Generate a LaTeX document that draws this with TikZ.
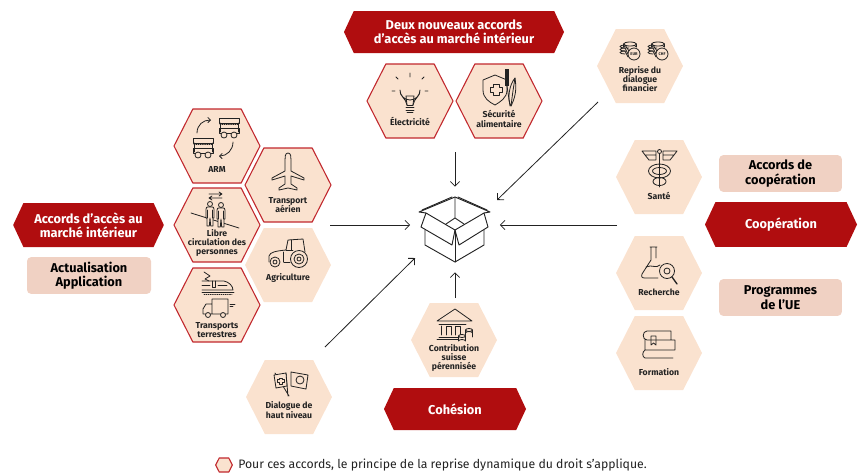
\documentclass[tikz,border=0pt]{standalone}
\usepackage{fontspec}
\setmainfont{Fira Sans}
\usetikzlibrary{shapes.symbols,arrows.meta}

\definecolor{rouge}{HTML}{B00D0F}
\definecolor{bord}{HTML}{C1272D}
\definecolor{peche}{HTML}{FAE2CF}
\definecolor{rose}{HTML}{F0D1C3}
\definecolor{encre}{HTML}{222222}

\tikzset{
  hexa/.style = {signal, signal to=west and east, signal pointer angle=126,
    minimum width=64.5pt, minimum height=55.5pt, inner sep=0pt, fill=peche},
  hexabord/.style = {hexa, draw=bord, line width=.8pt, outer sep=0pt},
  etiquette/.style = {align=center, text=encre, font=\fontsize{6.5}{7}\selectfont\bfseries},
  banniere/.style = {signal, signal to=west and east, signal pointer angle=130,
    fill=rouge, text=white, align=center, inner xsep=0pt, inner ysep=0pt,
    font=\fontsize{9.6}{10.8}\selectfont\bfseries},
  cadre/.style = {rectangle, rounded corners=3pt, fill=rose, text=black, align=center,
    font=\fontsize{9.6}{10.8}\selectfont\bfseries},
  fleche/.style = {draw=encre, line width=.6pt, -{Straight Barb[length=3.5pt,width=7pt]}},
  icone/.style = {draw=encre, line width=.6pt, line cap=round, line join=round}
}

\newcommand{\chariot}[2]{%
  \begin{scope}[shift={(#1,#2)},icone]
    \draw (-10,-10) rectangle (10,-5);
    \draw[densely dotted] (-9,-4) -- (9,-4);
    \draw (-9,-5) -- (-9,4) (9,-5) -- (9,4);
    \draw (-10,0) -- (10,0) -- (10,5) -- (-10,5) -- cycle;
    \draw[fill=peche] (-5,7) circle (3) (5,7) circle (3);
  \end{scope}}
\newcommand{\pieces}[3]{%
  \begin{scope}[shift={(#1,#2)},icone]
    \draw (-4.5,-8) -- (-4.5,-5) arc (180:360:6.5 and 2) -- (8.5,-8);
    \draw[fill=peche] (2,-8) ellipse (6.5 and 2);
    \draw (-3,-4) -- (1,-4) (-3,-4) arc (90:270:5 and 1.5) -- (1,-1);
    \draw (-3,-1) arc (90:270:5 and 1.5) -- (0,2);
    \draw (-3,2) arc (90:270:5 and 1.5) -- (0,5);
    \draw[fill=peche] (6,2) circle (6);
    \node[text=encre, font=\fontsize{3}{3}\selectfont\bfseries, inner sep=0pt] at (6,2) {#3};
  \end{scope}}
\newcommand{\personne}[2]{%
  \begin{scope}[shift={(#1,#2)},icone]
    \draw[fill=peche] (0,-3) circle (2.5);
    \draw[fill=peche] (-4,11) -- (-4,2) .. controls (-4,0) and (-3,0) .. (-2,0) -- (2,0)
      .. controls (3,0) and (4,0) .. (4,2) -- (4,11) -- (3,11) -- (3,19) -- (.7,19)
      -- (0,11) -- (-.7,19) -- (-3,19) -- (-3,11) -- cycle;
    \draw (-2.8,3) -- (-2.8,11) (2.8,3) -- (2.8,11);
  \end{scope}}

\begin{document}
\begin{tikzpicture}[x=.75pt, y=-.75pt]
  \useasboundingbox (0,0) rectangle (860,472);

  % hexagones
  \node[hexabord] (arm) at (217,146) {};
  \node[hexabord] (aerien) at (288,185) {};
  \node[hexabord] (libre) at (217,225) {};
  \node[hexa] (agri) at (288,265) {};
  \node[hexabord] (terre) at (217,305) {};
  \node[hexabord] (elec) at (410,101) {};
  \node[hexabord] (secu) at (499,101) {};
  \node[hexa] (reprise) at (640,66) {};
  \node[hexa] (sante) at (659,177) {};
  \node[hexa] (recherche) at (659,273) {};
  \node[hexa] (formation) at (659,353) {};
  \node[hexa] (contrib) at (454,340) {};
  \node[hexa] (dialogue) at (289,397) {};

  \node[etiquette] (tarm) at (217,169) {ARM};
  \node[etiquette] (taerien) at (288,205) {Transport\\aérien};
  \node[etiquette] (tlibre) at (217,243) {Libre\\circulation des\\personnes};
  \node[etiquette] (tagri) at (288,278) {Agriculture};
  \node[etiquette] (tterre) at (217,330) {Transports\\terrestres};
  \node[etiquette] (telec) at (410,121) {Électricité};
  \node[etiquette] (tsecu) at (499,119) {Sécurité\\alimentaire};
  \node[etiquette] (treprise) at (640,79) {Reprise du\\dialogue\\financier};
  \node[etiquette] (tsante) at (659,196) {Santé};
  \node[etiquette] (trecherche) at (659,292) {Recherche};
  \node[etiquette] (tformation) at (659,372) {Formation};
  \node[etiquette] (tcontrib) at (454,358) {Contribution\\suisse\\pérennisée};
  \node[etiquette] (tdialogue) at (289,410) {Dialogue de\\haut niveau};

  % bannieres et cadres
  \node[banniere, minimum width=113pt, minimum height=33pt] (marche) at (88.5,225) {Accords d’accès au\\marché intérieur};
  \node[banniere, minimum width=165pt, minimum height=31.5pt] (nouveaux) at (454,32) {Deux nouveaux accords\\d’accès au marché intérieur};
  \node[banniere, minimum width=114pt, minimum height=33.5pt] (coop) at (781,224.5) {Coopération};
  \node[banniere, minimum width=106.5pt, minimum height=31.5pt] (cohesion) at (455,409) {Cohésion};
  \node[cadre, minimum width=93pt, minimum height=27.5pt] (actu) at (89,275.5) {Actualisation\\Application};
  \node[cadre, minimum width=92pt, minimum height=27.5pt] (accords) at (780.5,173.5) {Accords de\\coopération};
  \node[cadre, minimum width=92pt, minimum height=27.5pt] (programmes) at (780.5,297.5) {Programmes\\de l’UE};

  % boite et fleches
  \node[minimum width=66.75pt, minimum height=63.75pt, inner sep=0pt] (boite) at (455,229.5) {};
  \coordinate (dhaut) at (455,152);
  \coordinate (dgauche) at (330,225);
  \coordinate (ddroite) at (617,225);
  \coordinate (dbas) at (455,298);
  \coordinate (dreprise) at (598,102);
  \coordinate (areprise) at (497,200);
  \coordinate (ddialogue) at (325,347);
  \coordinate (adialogue) at (415,258);
  \draw[fleche] (dhaut) -- (boite.north);
  \draw[fleche] (dbas) -- (boite.south);
  \draw[fleche] (dgauche) -- (dgauche -| boite.west);
  \draw[fleche] (ddroite) -- (ddroite -| boite.east);
  \draw[fleche] (dreprise) -- (areprise);
  \draw[fleche] (ddialogue) -- (adialogue);

  \begin{scope}[icone, line width=.7pt]
    \draw (455,197) -- (419,212) -- (426,213) (455,197) -- (490,212) -- (484,213);
    \draw (452,197) -- (422,210) (458,197) -- (487,210);
    \draw (455,197) -- (455,218) -- (446,224) (455,218) -- (464,224);
    \draw (426,213) -- (455,230) -- (452,245) -- (421,227) -- cycle;
    \draw (484,213) -- (455,230) -- (459,245) -- (488,227) -- cycle;
    \draw (425,230) -- (425,245) -- (455,262) -- (484,245) -- (484,230);
    \draw (455,232) -- (455,262);
  \end{scope}

  % icones
  \chariot{229}{128}
  \chariot{203}{148}
  \draw[icone, -{Straight Barb[length=2pt,width=4pt]}] (197,133) .. controls (197,125) and (203,120) .. (211,120);
  \draw[icone, -{Straight Barb[length=2pt,width=4pt]}] (233,142) .. controls (233,150) and (227,156) .. (219,156);

  \draw[icone] (288,153) .. controls (285,153) and (285,157) .. (285,160) -- (285,171)
    -- (272,178) -- (272,180) -- (285,176) -- (285,184) -- (279,188) -- (279,190) -- (288,188)
    -- (297,190) -- (297,188) -- (291,184) -- (291,176) -- (304,180) -- (304,178) -- (291,171)
    -- (291,160) .. controls (291,157) and (291,153) .. (288,153);

  \draw[icone] (209,194) -- (222,194) (219,192) -- (222,194) -- (219,196) (209,198) -- (222,198) (212,196) -- (209,198) -- (212,200);
  \draw[icone] (191,213) -- (239,228);
  \personne{210}{207}
  \personne{221}{208}

  \draw[icone] (269,262) -- (269,256) .. controls (270,252) and (276,251) .. (286,250) -- (288,240) -- (303,239) -- (305,252);
  \draw[icone] (291,240) -- (291,250) (286,250) -- (293,250) (284,262) -- (290,262) (283,252) -- (283,262);
  \draw[icone, fill=peche] (299,259) circle (8.5) circle (5) circle (2) (275,262) circle (5) circle (2);

  \draw[icone] (204,272) -- (210,276) -- (205,279) -- (209,281);
  \draw[icone] (202,281) -- (224,281) .. controls (229,282) and (233,286) .. (233,290) -- (202,290);
  \draw[icone] (212,281) -- (212,287) -- (215,287) -- (215,281) (202,285) -- (210,285) (218,285) -- (227,285);
  \draw[icone] (202,292) -- (234,292);
  \draw[icone, densely dotted] (204,294) -- (232,294);
  \draw[icone] (212,299) rectangle (228,314) (212,304) -- (206,304) -- (203,309) -- (203,314) -- (212,314);
  \draw[icone] (230,304) -- (235,304) (230,306.5) -- (233,306.5);
  \draw[icone, fill=peche] (208,315) circle (2.5) (223,315) circle (2.5);

  \draw[icone] (406,110) -- (414,110) (406,107.5) -- (414,107.5) (407,105) -- (413,105) (407,112) -- (413,112);
  \draw[icone] (407,105) .. controls (406,98) and (399,96) .. (400,90) arc (180:0:10) .. controls (421,96) and (414,98) .. (413,105);
  \draw[icone] (407,105) -- (406,96) -- (414,96) -- (413,105);
  \draw[icone] (410,73) -- (410,77) (398,79) -- (396,77) (422,79) -- (424,77) (392,91) -- (395,91) (425,91) -- (428,91);

  \draw[icone] (483,80) -- (495,75) -- (507,80) -- (507,90) .. controls (507,98) and (500,102) .. (495,105) .. controls (489,102) and (483,98) .. (483,90) -- cycle;
  \draw[icone] (493,84) -- (499,84) -- (499,87) -- (502,87) -- (502,92) -- (499,92) -- (499,95) -- (493,95) -- (493,92) -- (490,92) -- (490,87) -- (493,87) -- cycle;
  \draw[encre, line width=2.4pt] (507,69) -- (507,86);
  \draw[icone] (507,86) -- (510,106);
  \draw[icone] (515,78) .. controls (517,90) and (515,98) .. (511,106) .. controls (507,100) and (509,85) .. (515,78);
  \draw[icone] (515,78) .. controls (513,90) and (512,98) .. (511,106);

  \pieces{628}{52}{EUR}
  \pieces{656}{52}{CHF}

  \draw[icone] (659.5,152) -- (659.5,187);
  \draw[icone, fill=peche] (659.5,151.5) circle (2);
  \draw[icone] (642,151) -- (656,151) -- (656,160) -- (649,160) -- (645,155) -- (642,151) (645,155) -- (656,155);
  \draw[icone] (677,151) -- (663,151) -- (663,160) -- (670,160) -- (674,155) -- (677,151) (674,155) -- (663,155);
  \draw[icone] (659.5,171) ellipse (11 and 7) (659.5,171) ellipse (7 and 3.5);
  \draw[icone] (659.5,181.5) ellipse (6.5 and 4);

  \draw[icone] (650,247) -- (657,247) (651,247) -- (651,260) -- (642,274) .. controls (641,277) and (642,278) .. (645,278) -- (658,278) (656,247) -- (656,258);
  \draw[icone] (646,267) .. controls (652,264) and (656,269) .. (660,265);
  \draw[icone, fill=peche] (667,271) circle (7.5) circle (3);
  \draw[icone, line width=1pt] (672,277) -- (677,284);

  \draw[icone] (647,331) -- (671,331) (647,331) .. controls (642,331) and (642,340) .. (647,340) -- (675,340) -- (675,350) -- (645,350) .. controls (642,352) and (642,357) .. (645,358) -- (673,358) (671,331) -- (671,340) (645,350) -- (645,340);
  \draw[icone] (651,336) -- (651,345) -- (653.5,343) -- (656,345) -- (656,336) -- cycle;

  \draw[icone] (437,321) -- (455,309) -- (472,321) -- cycle;
  \draw[icone] (439,324) -- (466,324) (439,337) -- (462,337) (437,339) -- (462,339);
  \draw[icone] (441,326) -- (441,335) (446,335) -- (446,326) -- (451,326) -- (451,335) (455,335) -- (455,326) -- (460,326) -- (460,335);
  \draw[icone, fill=peche] (469,330) ellipse (3.5 and 1.5) (465.5,330) -- ++(0,7) (472.5,330) -- ++(0,7);
  \draw[icone] (465.5,333) arc (180:360:3.5 and 1.5);
  \draw[icone, fill=peche] (462,336) ellipse (3.5 and 1.5) (458.5,336) -- ++(0,5) arc (180:360:3.5 and 1.5) -- ++(0,-5);

  \draw[icone] (288,396) -- (286,373) (289,396) -- (275,373);
  \draw[icone, fill=peche] (274,375) -- (286,373) -- (287,386) -- (276,388) -- cycle;
  \draw[icone, fill=peche] (291,372) -- (308,375) -- (306,389) -- (291,386) -- cycle;
  \draw[icone] (300,380) circle (4);
  \draw[icone] (279,378) -- (282,378) -- (282,379) -- (284,379) -- (284,382) -- (282,382) -- (282,384) -- (279,384) -- (279,382) -- (277,382) -- (277,379) -- (279,379) -- cycle;

  % legende
  \node[hexabord, minimum width=12.5pt, minimum height=10.5pt] (hexlegende) at (224,465) {};
  \node[anchor=west, inner sep=0pt, text=encre, font=\fontsize{9.2}{10}\selectfont] (legende) at (238,465.5)
    {Pour ces accords, le principe de la reprise dynamique du droit s’applique.};
\end{tikzpicture}
\end{document}
